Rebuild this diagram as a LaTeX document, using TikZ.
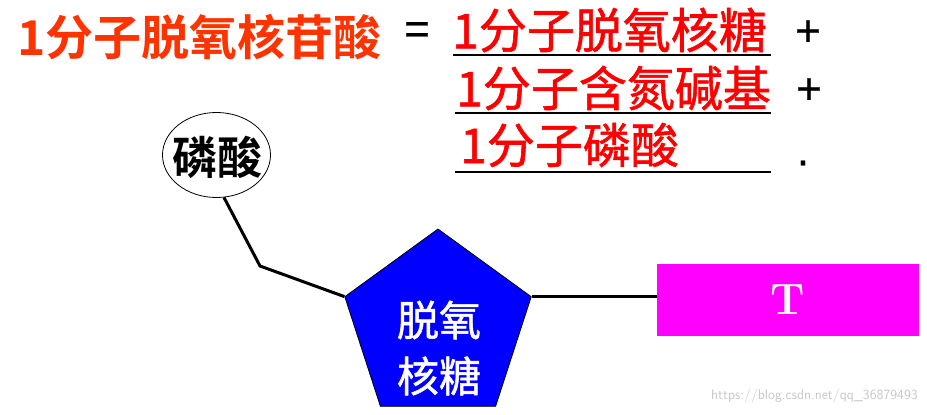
\documentclass[tikz,border=0pt]{standalone}
\usepackage{fontspec}
\newfontfamily\cjk[FakeBold=1.2]{Noto Sans CJK SC}
\newfontfamily\cjkb{Noto Sans CJK SC Bold}
\newfontfamily\opfont[FakeBold=0.6]{Liberation Sans}
\usetikzlibrary{shapes.geometric}
\definecolor{titlered}{HTML}{FF3300}
\definecolor{pureblue}{HTML}{0000FF}
\definecolor{magentaT}{HTML}{FF00FF}
\tikzset{
  eqtext/.style={anchor=west, inner sep=0pt, text=red, font=\cjk\fontsize{48}{48}\selectfont},
  optext/.style={inner sep=0pt, font=\opfont\fontsize{44}{44}\selectfont},
  uline/.style={line width=2.2pt},
  bond/.style={line width=3pt},
}
\begin{document}
\begin{tikzpicture}[x=1pt,y=-1pt]
\useasboundingbox (0,0) rectangle (927,415);
% title
\node[anchor=west, inner sep=0pt, text=titlered, font=\cjkb\fontsize{48}{48}\selectfont] (title) at (17,37) {1分子脱氧核苷酸};
\node[optext] (eq) at (417,33) {=};
% right side
\node[eqtext] (l1) at (452,30) {1分子脱氧核糖};
\node[eqtext] (l2) at (456,88) {1分子含氮碱基};
\node[eqtext] (l3) at (460,145) {1分子磷酸};
\draw[uline] (453,55) -- (771,55);
\draw[uline] (455,113) -- (771,113);
\draw[uline] (455,172) -- (771,172);
\node[optext] (p1) at (808,33) {+};
\node[optext] (p2) at (809,91) {+};
\node[optext] (dot) at (803,163) {.};
% phosphate
\node[draw, ellipse, line width=0.8pt, minimum width=108pt, minimum height=85pt, inner sep=0pt] (ph) at (216.5,155) {};
\node[inner sep=0pt, font=\cjkb\fontsize{45}{45}\selectfont] (phtext) at (217,157) {磷酸};
% sugar
\node[draw=black, line width=0.8pt, fill=pureblue, regular polygon, regular polygon sides=5,
      minimum size=196pt, inner sep=0pt] (sugar) at (438,327) {};
\node[text=white, align=center, inner sep=0pt, font=\cjk\fontsize{42}{56}\selectfont] (sugartext) at (439,348) {脱氧\\核糖};
% base
\node[fill=magentaT, minimum width=262pt, minimum height=72pt, inner sep=0pt,
      text=white, font=\bfseries\fontsize{44}{44}\selectfont] (base) at (788,300) {T};
% bonds
\coordinate (bend) at (260,266);
\draw[bond] (ph.-80) -- (bend) -- (sugar.corner 2);
\draw[bond] (sugar.corner 5) -- (sugar.corner 5 -| base.west);
% watermark
\node[anchor=east, inner sep=0pt, text=black!22, font=\sffamily\fontsize{14}{14}\selectfont] (wm) at (918,396) {https://blog.csdn.net/qq\_36879493};
\end{tikzpicture}
\end{document}
